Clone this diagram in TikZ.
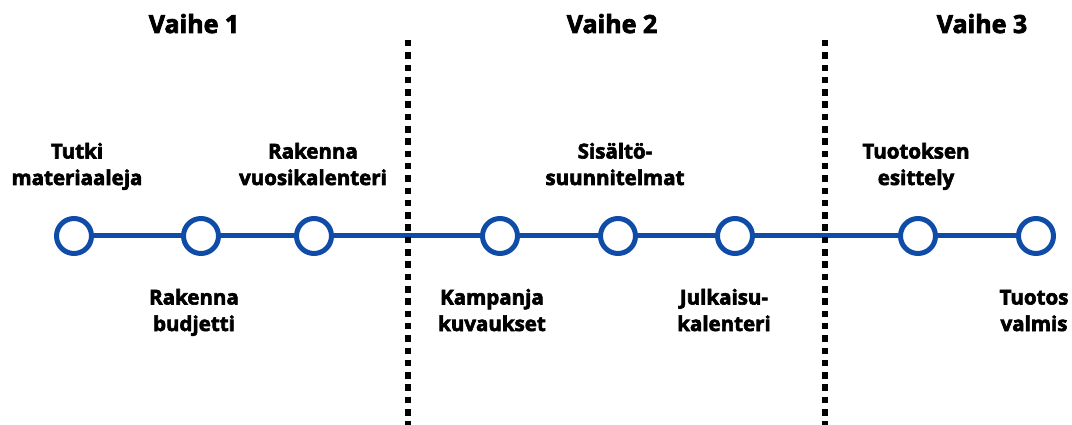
\documentclass[tikz,border=0pt]{standalone}
\usepackage{fontspec}
\setmainfont{Open Sans}[BoldFeatures={FakeBold=3}]
\definecolor{trackblue}{RGB}{14,76,168}
\tikzset{
  track/.style={draw=trackblue, line width=5pt},
  stop/.style={circle, draw=trackblue, fill=white, line width=5pt,
    minimum size=35pt, inner sep=0pt},
  divider/.style={draw=black, line width=6.5pt, dash pattern=on 6.5pt off 5.8pt},
  phase/.style={font=\bfseries\fontsize{25}{30}\selectfont, anchor=base, inner sep=0pt},
  steplabel/.style={font=\bfseries\fontsize{20.5}{26.5}\selectfont, align=center,
    anchor=base, inner sep=0pt}
}
\begin{document}
\begin{tikzpicture}[x=1pt, y=-1pt]
  \useasboundingbox (0,0) rectangle (1072,425);

  % timeline stops
  \coordinate (p1) at (74,236);
  \coordinate (p2) at (201,236);
  \coordinate (p3) at (314,236);
  \coordinate (p4) at (500,236);
  \coordinate (p5) at (618,236);
  \coordinate (p6) at (735,236);
  \coordinate (p7) at (918,236);
  \coordinate (p8) at (1036,236);

  \draw[track] (p1) -- (p8);
  \foreach \i in {1,...,8} {
    \node[stop] (c\i) at (p\i) {};
  }

  % phase dividers
  \coordinate (d1top) at (408,40);
  \coordinate (d1bot) at (408,428);
  \coordinate (d2top) at (825,40);
  \coordinate (d2bot) at (825,428);
  \draw[divider] (d1top) -- (d1bot);
  \draw[divider] (d2top) -- (d2bot);

  % phase headings
  \node[phase] (v1) at (194,33) {Vaihe 1};
  \node[phase] (v2) at (612,33) {Vaihe 2};
  \node[phase] (v3) at (982,33) {Vaihe 3};

  % labels above the line (base = baseline of the last line)
  \node[steplabel] (l1) at (77,185) {Tutki\\materiaaleja};
  \node[steplabel] (l3) at (313,185) {Rakenna\\vuosikalenteri};
  \node[steplabel] (l5) at (615,185) {Sisältö-\\suunnitelmat};
  \node[steplabel] (l7) at (916,185) {Tuotoksen\\esittely};

  % labels below the line
  \node[steplabel] (l2) at (194,331) {Rakenna\\budjetti};
  \node[steplabel] (l4) at (492,331) {Kampanja\\kuvaukset};
  \node[steplabel] (l6) at (724,331) {Julkaisu-\\kalenteri};
  \node[steplabel] (l8) at (1034,331) {Tuotos\\valmis};
\end{tikzpicture}
\end{document}
